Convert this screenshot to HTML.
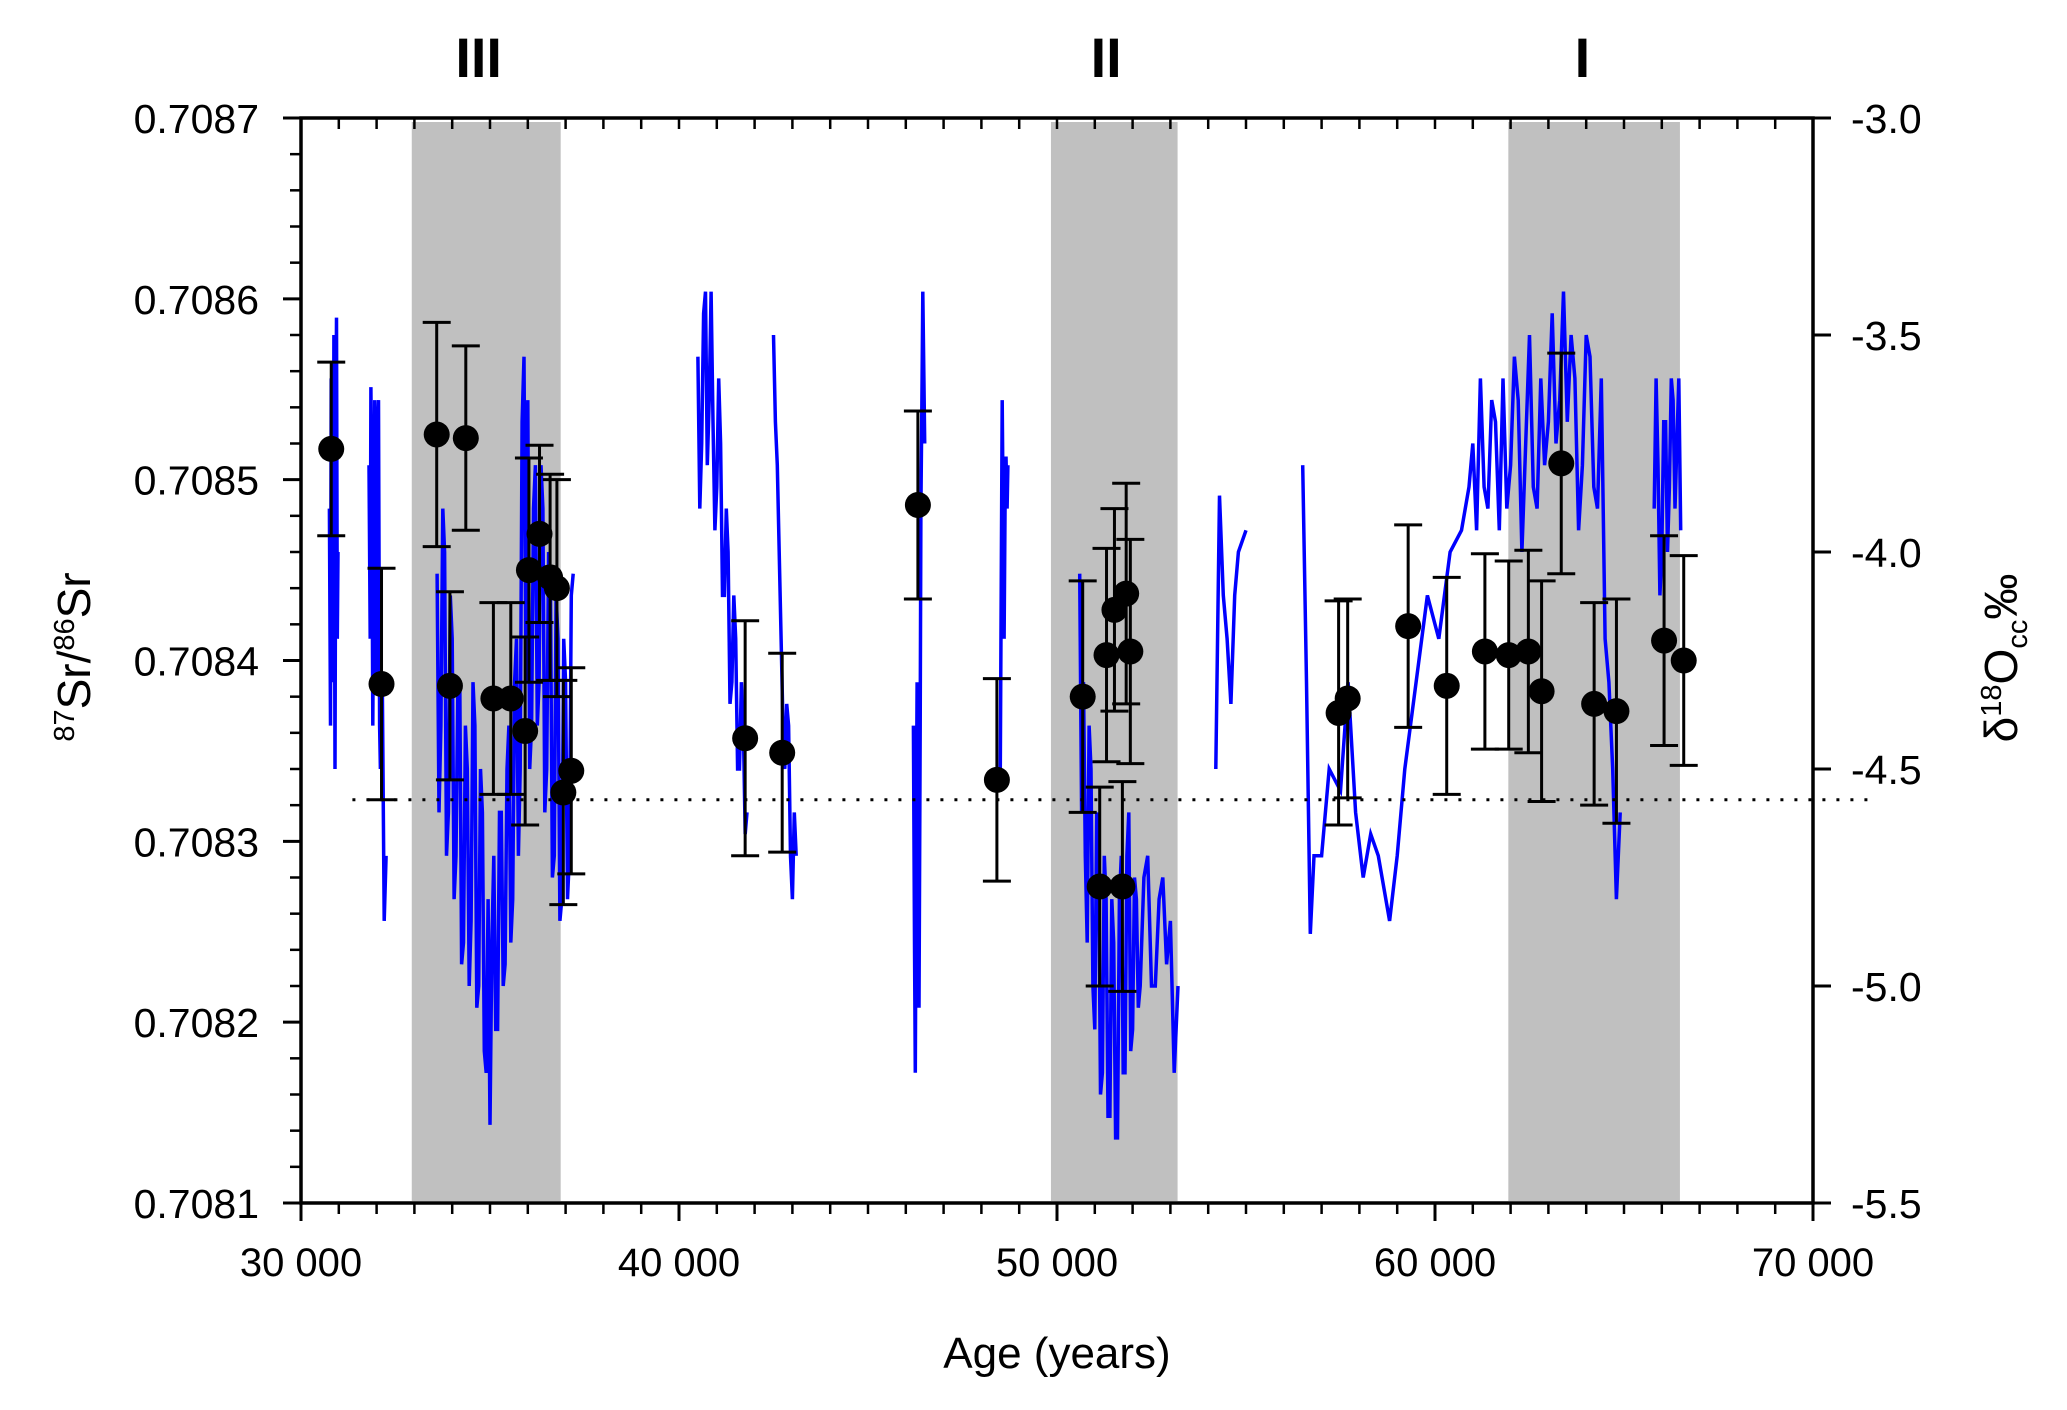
<!DOCTYPE html>
<html><head><meta charset="utf-8"><style>
html,body{margin:0;padding:0;background:#fff}
svg{display:block;font-family:"Liberation Sans",Arial,sans-serif}
</style></head><body>
<svg id="chart" width="2067" height="1410" viewBox="0 0 2067 1410" xmlns="http://www.w3.org/2000/svg">
<g id="bands"></g>
<g id="blue"></g>
<g id="dotted"></g>
<g id="pts"></g>
<g id="axes"></g>
<text transform="translate(90,657) rotate(-90)" text-anchor="middle" font-size="46">
<tspan font-size="29" dy="-16">87</tspan><tspan dy="16">Sr/</tspan><tspan font-size="29" dy="-16">86</tspan><tspan dy="16">Sr</tspan></text>
<text transform="translate(2017,658) rotate(-90)" text-anchor="middle" font-size="46">δ<tspan font-size="29" dy="-16">18</tspan><tspan dy="16">O</tspan><tspan font-size="29" dy="10">cc</tspan><tspan dy="-10">‰</tspan></text>
<text x="1057" y="1368" text-anchor="middle" font-size="44">Age (years)</text>
</svg>
<script>
const srAges=[30800,32130,33590,34360,33940,35090,35550,35930,36030,36310,36590,36770,36940,37150,41750,42730,46320,48410,50680,51130,51310,51520,51730,51830,51940,57450,57690,59290,60310,61320,61950,62470,62820,63340,64210,64800,66060,66580];
const srVals=[0.708517,0.708387,0.708525,0.708523,0.708386,0.708379,0.708379,0.708361,0.708450,0.708470,0.708446,0.708440,0.708327,0.708339,0.708357,0.708349,0.708486,0.708334,0.708380,0.708275,0.708403,0.708428,0.708275,0.708437,0.708405,0.708371,0.708379,0.708419,0.708386,0.708405,0.708403,0.708405,0.708383,0.708509,0.708376,0.708372,0.708411,0.708400];
const srErr=[0.000048,0.000064,0.000062,0.000051,0.000052,0.000053,0.000053,0.000052,0.000062,0.000049,0.000057,0.000060,0.000062,0.000057,0.000065,0.000055,0.000052,0.000056,0.000064,0.000055,0.000059,0.000056,0.000058,0.000061,0.000062,0.000062,0.000055,0.000056,0.000060,0.000054,0.000052,0.000056,0.000061,0.000061,0.000056,0.000062,0.000058,0.000058];
const bandStarts=[32930,49840,61940];
const bandEnds=[36870,53190,66480];
const bandLabels=["III","II","I"];
const bandLabelAges=[34700,51300,63900];
const refSr=0.708323;
const refStart=31360, refEnd=71540;
const xTicks=[30000,40000,50000,60000,70000];
const xTickLabels=["30 000","40 000","50 000","60 000","70 000"];
const yLeftTicks=[0.7081,0.7082,0.7083,0.7084,0.7085,0.7086,0.7087];
const yLeftLabels=["0.7081","0.7082","0.7083","0.7084","0.7085","0.7086","0.7087"];
const yRightTicks=[-5.5,-5.0,-4.5,-4.0,-3.5,-3.0];
const yRightLabels=["-5.5","-5.0","-4.5","-4.0","-3.5","-3.0"];
const segAges=[
[30750,30780,30800,30830,30850,30870,30900,30920,30940,30960,30980],
[31800,31830,31850,31880,31900,31930,31950,31980,32000,32030,32050,32080,32100,32150,32200,32250],
[33600,33650,33700,33750,33800,33850,33900,33950,34000,34050,34100,34150,34200,34250,34300,34350,34400,34450,34500,34550,34600,34650,34700,34750,34800,34850,34900,34950,35000,35050,35100,35150,35200,35250,35300,35350,35400,35450,35500,35550,35600,35650,35700,35750,35800,35850,35900,35950,36000,36050,36100,36150,36200,36250,36300,36350,36400,36450,36500,36550,36600,36650,36700,36750,36800,36850,36900,36950,37000,37050,37100,37150,37200],
[40500,40550,40600,40650,40700,40750,40800,40850,40900,40950,41000,41050,41100,41150,41200,41250,41300,41350,41400,41450,41500,41550,41600,41650,41700,41750,41800],
[42500,42550,42600,42650,42700,42750,42800,42850,42900,42950,43000,43050,43100],
[46200,46230,46250,46280,46300,46330,46350,46380,46400,46430,46450,46480,46500],
[48500,48530,48550,48580,48600,48630,48650,48680,48700],
[50600,50650,50700,50750,50800,50850,50900,50950,51000,51050,51100,51150,51200,51250,51300,51350,51400,51450,51500,51550,51600,51650,51700,51750,51800,51850,51900,51950,52000,52050,52100,52150,52200,52300,52400,52500,52600,52700,52800,52900,53000,53100,53200],
[54200,54300,54400,54500,54600,54700,54800,55000],
[56500,56600,56700,56800,57000,57200,57500,57700,57900,58100,58300,58500,58800,59000,59200,59500,59800,60100,60400,60700,60900,61000,61100,61200,61300,61400,61500,61600,61700,61800,61900,62000,62100,62200,62300,62400,62500,62600,62700,62800,62900,63000,63100,63200,63300,63400,63500,63600,63700,63800,63900,64000,64100,64200,64300,64400,64500,64600,64700,64800,64900],
[65800,65850,65900,65950,66000,66050,66100,66150,66200,66250,66300,66350,66400,66450,66500]];
const segVals=[
[-3.9,-4.4,-3.6,-4.1,-4.3,-3.5,-4.5,-3.8,-3.46,-4.2,-4.0],
[-3.8,-4.2,-3.62,-4.0,-4.4,-3.9,-3.65,-4.3,-4.1,-3.7,-3.65,-4.4,-4.5,-4.3,-4.85,-4.7],
[-4.05,-4.6,-4.4,-3.9,-4.0,-4.7,-4.6,-4.1,-4.2,-4.8,-4.7,-4.3,-4.3,-4.95,-4.9,-4.4,-4.5,-5.0,-4.85,-4.3,-4.4,-5.05,-5.0,-4.5,-4.6,-5.15,-5.2,-4.8,-5.32,-4.9,-4.7,-5.1,-5.1,-4.6,-4.6,-5.0,-4.95,-4.5,-4.4,-4.9,-4.8,-4.3,-4.2,-4.7,-4.5,-3.7,-3.55,-4.3,-3.65,-4.5,-4.4,-3.9,-3.8,-4.4,-4.3,-3.8,-3.9,-4.6,-4.5,-4.0,-4.1,-4.75,-4.7,-4.1,-4.2,-4.85,-4.8,-4.2,-4.3,-4.8,-4.7,-4.1,-4.05],
[-3.55,-3.9,-3.75,-3.45,-3.4,-3.8,-3.65,-3.4,-3.7,-3.95,-3.85,-3.6,-3.75,-4.1,-4.1,-3.9,-4.0,-4.35,-4.3,-4.1,-4.2,-4.5,-4.5,-4.3,-4.4,-4.65,-4.6],
[-3.5,-3.7,-3.8,-4.0,-4.2,-4.4,-4.5,-4.35,-4.4,-4.7,-4.8,-4.6,-4.7],
[-4.4,-4.9,-5.2,-4.6,-4.3,-4.8,-5.05,-4.4,-3.9,-3.6,-3.4,-3.6,-3.75],
[-4.5,-4.0,-3.65,-3.95,-4.2,-3.85,-3.78,-3.9,-3.8],
[-4.05,-4.6,-4.3,-4.7,-4.9,-4.4,-4.5,-5.0,-5.1,-4.6,-4.7,-5.25,-5.2,-4.7,-4.8,-5.3,-5.3,-4.8,-4.9,-5.35,-5.35,-4.8,-4.7,-5.2,-5.2,-4.7,-4.6,-5.15,-5.1,-4.75,-4.8,-5.05,-5.0,-4.75,-4.7,-5.0,-5.0,-4.8,-4.75,-4.95,-4.85,-5.2,-5.0],
[-4.5,-3.87,-4.1,-4.2,-4.35,-4.1,-4.0,-3.95],
[-3.8,-4.3,-4.88,-4.7,-4.7,-4.5,-4.55,-4.3,-4.6,-4.75,-4.65,-4.7,-4.85,-4.7,-4.5,-4.3,-4.1,-4.2,-4.0,-3.95,-3.85,-3.75,-3.95,-3.6,-3.85,-3.9,-3.65,-3.7,-3.95,-3.6,-3.9,-3.8,-3.55,-3.65,-4.0,-3.75,-3.5,-3.85,-3.9,-3.6,-3.8,-3.7,-3.45,-3.75,-3.65,-3.4,-3.7,-3.5,-3.6,-3.95,-3.8,-3.5,-3.55,-3.85,-3.9,-3.6,-4.2,-4.3,-4.5,-4.8,-4.6],
[-3.9,-3.6,-3.8,-4.1,-4.0,-3.7,-3.7,-4.0,-3.85,-3.6,-3.65,-3.9,-3.75,-3.6,-3.95]];

const X0=301,X1=1813,Y0=118,Y1=1203;
const xs=a=>X0+(a-30000)/40000*(X1-X0);
const yl=v=>Y1-(v-0.7081)/0.0006*(Y1-Y0);
const yr=v=>Y1-(v+5.5)/2.5*(Y1-Y0);
const NS="http://www.w3.org/2000/svg";
function mk(tag,attrs,parent){const e=document.createElementNS(NS,tag);for(const k in attrs)e.setAttribute(k,attrs[k]);parent.appendChild(e);return e;}
const svg=document.getElementById('chart');
const gB=document.getElementById('bands'),gL=document.getElementById('blue'),gD=document.getElementById('dotted'),gP=document.getElementById('pts'),gA=document.getElementById('axes');

bandStarts.forEach((s,i)=>{
  const r=mk('rect',{x:xs(s),y:Y0+4,width:xs(bandEnds[i])-xs(s),height:Y1-Y0-6,fill:'#c0c0c0'},gB);
  
  
  const t=mk('text',{x:xs(bandLabelAges[i]),y:77,'text-anchor':'middle','font-size':'56','font-weight':'bold'},svg);
  t.textContent=bandLabels[i];
  
  
});

segAges.forEach((ages,i)=>{
  let d='';
  ages.forEach((a,j)=>{const v=segVals[i][j];d+=(j?'L':'M')+xs(a).toFixed(1)+','+yr(v).toFixed(1);});
  const p=mk('path',{d:d,fill:'none',stroke:'#0000ff','stroke-width':'3.5','stroke-linejoin':'miter'},gL);
  
  
});

const ref=mk('line',{x1:xs(refStart),x2:xs(refEnd),y1:yl(refSr),y2:yl(refSr),stroke:'#000','stroke-width':'3','stroke-dasharray':'3 11'},gD);



srAges.forEach((a,i)=>{
  const x=xs(a),y=yl(srVals[i]),yt=yl(srVals[i]+srErr[i]),yb=yl(srVals[i]-srErr[i]);
  const g=mk('g',{},gP);
  
  
  mk('line',{x1:x,x2:x,y1:yt,y2:yb,stroke:'#000','stroke-width':'3'},g);
  mk('line',{x1:x-14,x2:x+14,y1:yt,y2:yt,stroke:'#000','stroke-width':'3'},g);
  mk('line',{x1:x-14,x2:x+14,y1:yb,y2:yb,stroke:'#000','stroke-width':'3'},g);
  mk('circle',{cx:x,cy:y,r:13,fill:'#000'},g);
});

const fr=mk('path',{d:`M${X0},${Y0}H${X1}V${Y1}H${X0}Z`,fill:'none',stroke:'#000','stroke-width':'3.5'},gA);


for(let a=30000;a<=70000;a+=1000){
  const x=xs(a),maj=a%10000===0;
  mk('line',{x1:x,x2:x,y1:Y1,y2:Y1+(maj?18:11),stroke:'#000','stroke-width':maj?3:2.5},gA);
  mk('line',{x1:x,x2:x,y1:Y0,y2:Y0+11,stroke:'#000','stroke-width':2.5},gA);
}
xTicks.forEach((a,i)=>{const t=mk('text',{x:xs(a),y:1276,'text-anchor':'middle','font-size':'40'},gA);t.textContent=xTickLabels[i];
  });
for(let k=0;k<=30;k++){
  const v=0.7081+k*0.00002,y=yl(v),maj=k%5===0;
  mk('line',{x1:X0-(maj?18:11),x2:X0,y1:y,y2:y,stroke:'#000','stroke-width':maj?3:2.5},gA);
}
yLeftTicks.forEach((v,i)=>{const t=mk('text',{x:259,y:yl(v)+15,'text-anchor':'end','font-size':'41'},gA);t.textContent=yLeftLabels[i];
  });
for(let k=0;k<=5;k++){
  const y=yr(-5.5+k*0.5);
  mk('line',{x1:X1,x2:X1+18,y1:y,y2:y,stroke:'#000','stroke-width':3},gA);
}
yRightTicks.forEach((v,i)=>{const t=mk('text',{x:1851,y:yr(v)+15,'text-anchor':'start','font-size':'41'},gA);t.textContent=yRightLabels[i];
  });
</script>
</body></html>
